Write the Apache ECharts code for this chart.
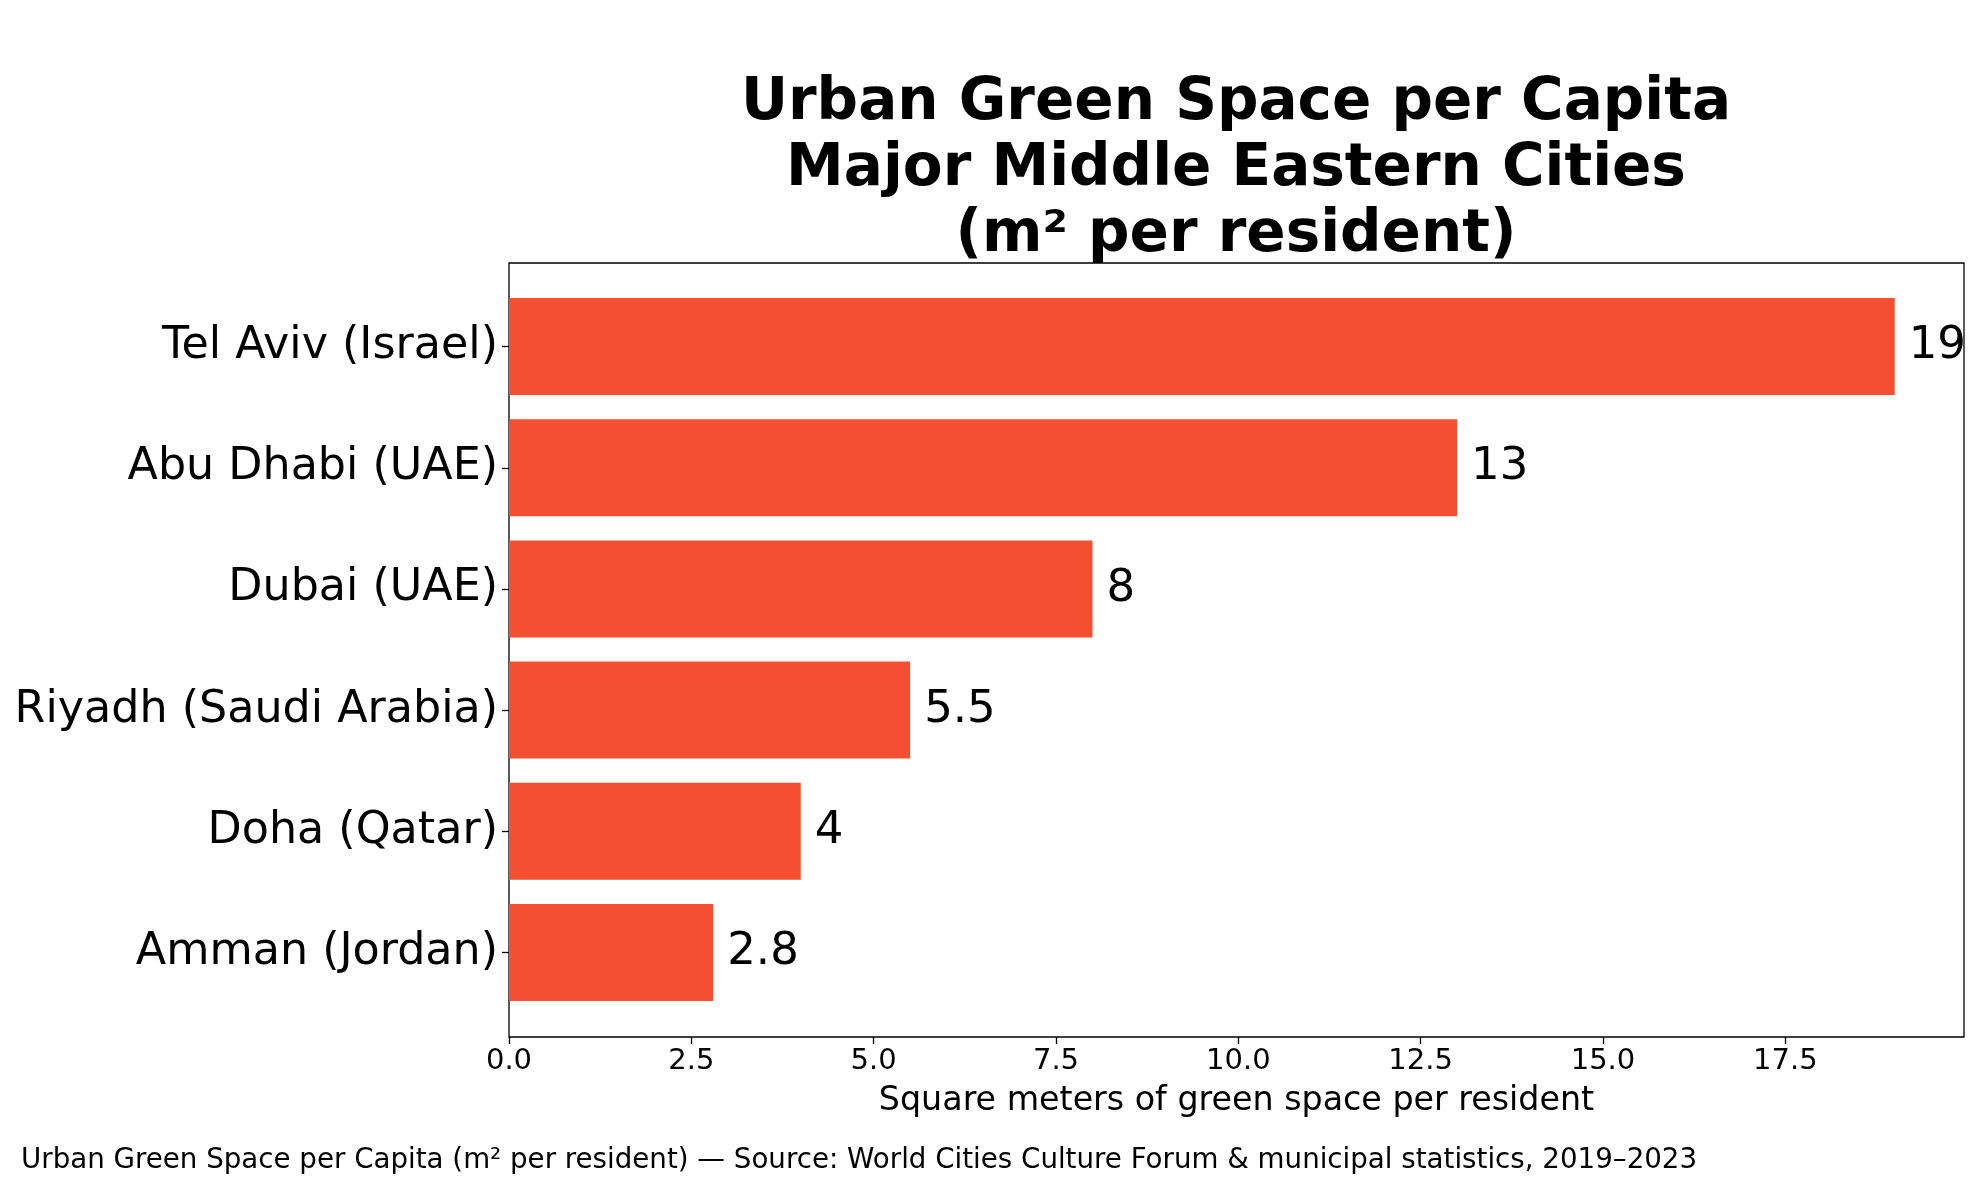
<!DOCTYPE html>
<html>
<head>
<meta charset="utf-8">
<script src="https://cdn.jsdelivr.net/npm/echarts@6/dist/echarts.min.js"></script>
<style>
html,body{margin:0;padding:0;background:#fff;}
#chart{width:1979px;height:1180px;}
</style>
</head>
<body>
<div id="chart"></div>
<script>
const cities = ["Tel Aviv (Israel)", "Abu Dhabi (UAE)", "Dubai (UAE)", "Riyadh (Saudi Arabia)", "Doha (Qatar)", "Amman (Jordan)"];
const greenSpace = [19, 13, 8, 5.5, 4, 2.8];
const xTicks = [0, 2.5, 5, 7.5, 10, 12.5, 15, 17.5];
const titleText = "Urban Green Space per Capita\nMajor Middle Eastern Cities\n(m² per resident)";
const xAxisTitle = "Square meters of green space per resident";
const footerText = "Urban Green Space per Capita (m² per resident) — Source: World Cities Culture Forum & municipal statistics, 2019–2023";

const FONT = "DejaVu Sans";
const chart = echarts.init(document.getElementById('chart'), null, {renderer: 'canvas'});
chart.setOption({
  backgroundColor: '#ffffff',
  animation: false,
  textStyle: {fontFamily: FONT},
  title: [
    {
      text: titleText,
      left: 1236,
      textAlign: 'center',
      top: 71,
      padding: 0,
      textStyle: {fontFamily: FONT, fontSize: 58, fontWeight: 'bold', color: '#000', lineHeight: 66}
    },
    {
      text: footerText,
      left: 21,
      top: 1147,
      padding: 0,
      textStyle: {fontFamily: FONT, fontSize: 27.7, fontWeight: 'normal', color: '#000'}
    }
  ],
  grid: [
    {left: 509, right: 15, top: 286, height: 727, containLabel: false},
    {left: 509, right: 15, top: 263, height: 774, show: true, borderColor: '#000', borderWidth: 1.3, backgroundColor: 'transparent'}
  ],
  xAxis: [
    {
      type: 'value', gridIndex: 0, min: 0, max: 19.95, interval: 2.5, offset: 24,
      splitLine: {show: false},
      axisLine: {show: false},
      axisTick: {show: true, length: 7, lineStyle: {color: '#000', width: 1.3}, customValues: xTicks},
      axisLabel: {
        fontFamily: FONT, fontSize: 29, color: '#000', margin: 10,
        customValues: xTicks,
        formatter: v => v.toFixed(1)
      },
      name: xAxisTitle, nameLocation: 'middle', nameGap: 48,
      nameTextStyle: {fontFamily: FONT, fontSize: 33.3, color: '#000'}
    },
    {type: 'value', gridIndex: 1, show: false, min: 0, max: 1}
  ],
  yAxis: [
    {
      type: 'category', gridIndex: 0, data: cities, inverse: true,
      axisLine: {show: false},
      axisTick: {show: true, length: 7, alignWithLabel: true, lineStyle: {color: '#000', width: 1.3}},
      axisLabel: {fontFamily: FONT, fontSize: 44.4, color: '#000', margin: 11},
      splitLine: {show: false}
    },
    {type: 'value', gridIndex: 1, show: false, min: 0, max: 1}
  ],
  series: [
    {
      type: 'bar', xAxisIndex: 0, yAxisIndex: 0,
      data: greenSpace,
      barWidth: 97,
      itemStyle: {color: '#F44F30'},
      label: {
        show: true, position: 'right', distance: 14,
        fontFamily: FONT, fontSize: 45, color: '#000',
        formatter: p => String(p.value)
      }
    }
  ]
});
</script>
</body>
</html>
